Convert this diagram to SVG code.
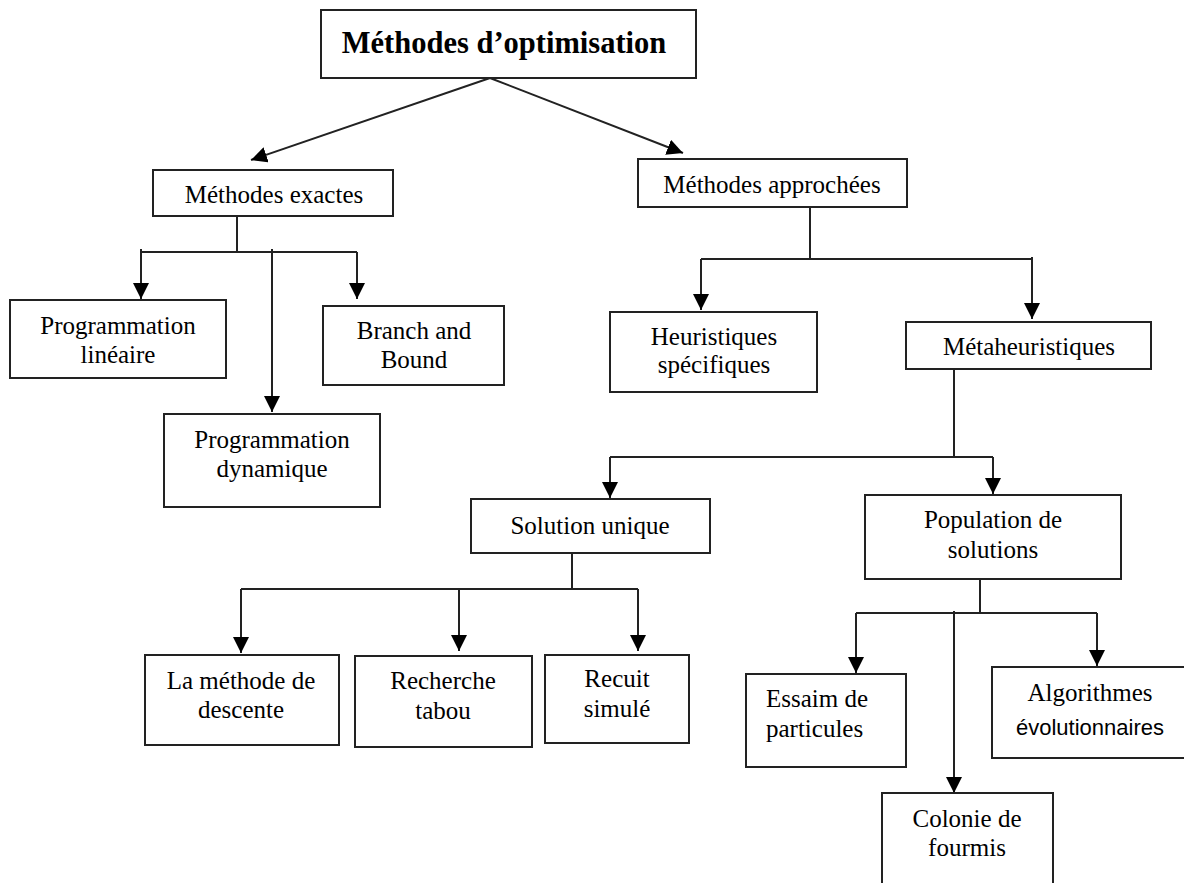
<svg xmlns="http://www.w3.org/2000/svg" width="1184" height="883" viewBox="0 0 1184 883">
  <style>
    .box { fill: #ffffff; stroke: #222222; stroke-width: 2; }
    .lbl { font-family: "Liberation Serif", "Times New Roman", serif; font-size: 25px; fill: #000000; text-anchor: middle; }
    .title { font-family: "Liberation Serif", "Times New Roman", serif; font-size: 30.5px; font-weight: bold; fill: #000000; text-anchor: middle; }
    .sans { font-family: "Liberation Sans", Arial, sans-serif; font-size: 22px; fill: #000000; text-anchor: middle; }
    .wire { fill: none; stroke: #222222; stroke-width: 2; }
    .arr { fill: none; stroke: #222222; stroke-width: 2; marker-end: url(#head); }
  </style>
  <defs>
    <marker id="head" markerUnits="userSpaceOnUse" markerWidth="17" markerHeight="16" refX="16" refY="8" orient="auto">
      <path d="M0,0 L16,8 L0,16 Z" fill="#000000"/>
    </marker>
  </defs>
  <rect width="1184" height="883" fill="#ffffff"/>

  <!-- connectors -->
  <g id="connectors">
    <!-- root split -->
    <line class="arr" x1="490" y1="78" x2="251" y2="160"/>
    <line class="arr" x1="490" y1="78" x2="683" y2="153"/>
    <!-- exact methods -->
    <line class="wire" x1="237" y1="216" x2="237" y2="252"/>
    <line class="wire" x1="141" y1="252" x2="357" y2="252"/>
    <line class="arr" x1="141" y1="249" x2="141" y2="299"/>
    <line class="arr" x1="272" y1="249" x2="272" y2="412"/>
    <line class="arr" x1="357" y1="252" x2="357" y2="299"/>
    <!-- approximate methods -->
    <line class="wire" x1="810" y1="207" x2="810" y2="259"/>
    <line class="wire" x1="701" y1="259" x2="1032" y2="259"/>
    <line class="arr" x1="701" y1="259" x2="701" y2="310"/>
    <line class="arr" x1="1032" y1="257" x2="1032" y2="319"/>
    <!-- metaheuristics -->
    <line class="wire" x1="954" y1="369" x2="954" y2="457"/>
    <line class="wire" x1="610" y1="457" x2="993" y2="457"/>
    <line class="arr" x1="610" y1="457" x2="610" y2="498"/>
    <line class="arr" x1="993" y1="457" x2="993" y2="494"/>
    <!-- single solution -->
    <line class="wire" x1="572" y1="553" x2="572" y2="589"/>
    <line class="wire" x1="241" y1="589" x2="638" y2="589"/>
    <line class="arr" x1="241" y1="589" x2="241" y2="653"/>
    <line class="arr" x1="459" y1="589" x2="459" y2="651"/>
    <line class="arr" x1="638" y1="589" x2="638" y2="651"/>
    <!-- population -->
    <line class="wire" x1="980" y1="579" x2="980" y2="613"/>
    <line class="wire" x1="856" y1="613" x2="1097" y2="613"/>
    <line class="arr" x1="856" y1="613" x2="856" y2="673"/>
    <line class="arr" x1="954" y1="611" x2="954" y2="793"/>
    <line class="arr" x1="1097" y1="613" x2="1097" y2="666"/>
  </g>

  <g id="root">
    <rect class="box" x="321" y="10" width="375" height="68"/>
    <text class="title" x="504" y="53">Méthodes d’optimisation</text>
  </g>

  <g id="exactes">
    <rect class="box" x="153" y="170" width="240" height="46"/>
    <text class="lbl" x="274" y="203">Méthodes exactes</text>
  </g>

  <g id="approchees">
    <rect class="box" x="638" y="159" width="269" height="48"/>
    <text class="lbl" x="772" y="193">Méthodes approchées</text>
  </g>

  <g id="prog-lineaire">
    <rect class="box" x="10" y="300" width="216" height="78"/>
    <text class="lbl" x="118" y="334">Programmation</text>
    <text class="lbl" x="118" y="363">linéaire</text>
  </g>

  <g id="branch-bound">
    <rect class="box" x="323" y="306" width="181" height="79"/>
    <text class="lbl" x="414" y="339">Branch and</text>
    <text class="lbl" x="414" y="368">Bound</text>
  </g>

  <g id="prog-dynamique">
    <rect class="box" x="164" y="414" width="216" height="93"/>
    <text class="lbl" x="272" y="448">Programmation</text>
    <text class="lbl" x="272" y="477">dynamique</text>
  </g>

  <g id="heuristiques">
    <rect class="box" x="610" y="312" width="207" height="80"/>
    <text class="lbl" x="714" y="345">Heuristiques</text>
    <text class="lbl" x="714" y="373">spécifiques</text>
  </g>

  <g id="metaheuristiques">
    <rect class="box" x="906" y="322" width="245" height="47"/>
    <text class="lbl" x="1029" y="355">Métaheuristiques</text>
  </g>

  <g id="solution-unique">
    <rect class="box" x="471" y="499" width="239" height="54"/>
    <text class="lbl" x="590" y="534">Solution unique</text>
  </g>

  <g id="population">
    <rect class="box" x="865" y="495" width="256" height="84"/>
    <text class="lbl" x="993" y="528">Population de</text>
    <text class="lbl" x="993" y="558">solutions</text>
  </g>

  <g id="descente">
    <rect class="box" x="145" y="655" width="194" height="90"/>
    <text class="lbl" x="241" y="689">La méthode de</text>
    <text class="lbl" x="241" y="718">descente</text>
  </g>

  <g id="tabou">
    <rect class="box" x="355" y="656" width="177" height="91"/>
    <text class="lbl" x="443" y="689">Recherche</text>
    <text class="lbl" x="443" y="719">tabou</text>
  </g>

  <g id="recuit">
    <rect class="box" x="545" y="655" width="144" height="88"/>
    <text class="lbl" x="617" y="687">Recuit</text>
    <text class="lbl" x="617" y="717">simulé</text>
  </g>

  <g id="essaim">
    <rect class="box" x="746" y="674" width="160" height="93"/>
    <text class="lbl" x="766" y="707" style="text-anchor:start">Essaim de</text>
    <text class="lbl" x="766" y="737" style="text-anchor:start">particules</text>
  </g>

  <g id="algorithmes">
    <rect class="box" x="992" y="667" width="205" height="91"/>
    <text class="lbl" x="1090" y="701">Algorithmes</text>
    <text class="sans" x="1090" y="735">évolutionnaires</text>
  </g>

  <g id="colonie">
    <rect class="box" x="882" y="793" width="171" height="110"/>
    <text class="lbl" x="967" y="827">Colonie de</text>
    <text class="lbl" x="967" y="856">fourmis</text>
  </g>
</svg>
